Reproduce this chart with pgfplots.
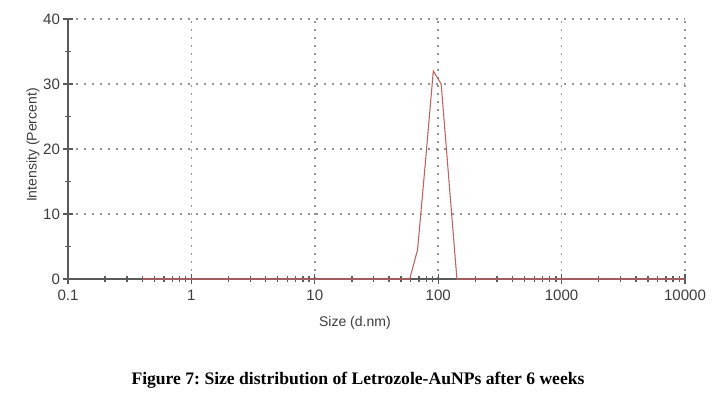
\documentclass[border=0pt]{standalone}
\usepackage{fontspec}
\setmainfont{Liberation Sans}
\newfontfamily\capfont{Liberation Serif}
\usepackage{pgfplots}
\pgfplotsset{compat=1.18}
\definecolor{txt}{RGB}{60,60,60}
\definecolor{axc}{RGB}{90,90,90}
\definecolor{curve}{RGB}{200,95,95}
\frenchspacing
\begin{document}
\begin{tikzpicture}[x=0.75pt,y=0.75pt]
\path[use as bounding box] (-68,-115) rectangle (650,279);
\begin{axis}[
  at={(0,0)}, anchor=south west,
  scale only axis, width=617*0.75pt, height=260*0.75pt,
  xmode=log, xmin=0.1, xmax=10000, ymin=0, ymax=40,
  axis lines=left, axis line style={-, axc, line width=1.1pt},
  xtick={0.1,1,10,100,1000,10000},
  xticklabels={0.1,1,10,100,1000,10000},
  minor xtick={0.2,0.3,0.4,0.5,0.6,0.7,0.8,0.9,2,3,4,5,6,7,8,9,20,30,40,50,60,70,80,90,200,300,400,500,600,700,800,900,2000,3000,4000,5000,6000,7000,8000,9000},
  ytick={0,10,20,30,40}, minor ytick={5,15,25,35},
  tick align=center, major tick length=7pt, minor tick length=4pt,
  tick style={axc, line width=1pt},
  grid=major,
  major grid style={gray!85, line width=1.3pt, dash pattern=on 1.2pt off 4.8pt},
  minor grid style={draw=none},
  /pgf/number format/assume math mode=true,
  ticklabel style={font=\fontsize{11.3}{13}\selectfont, text=txt},
  xticklabel style={yshift=-1pt},
  yticklabel style={xshift=1pt},
  xlabel={Size (d.nm)},
  ylabel={Intensity (Percent)},
  label style={font=\fontsize{10.5}{12}\selectfont, text=txt},
  xlabel style={at={(axis description cs:0.465,-0.169)}, anchor=center},
  ylabel style={at={(axis description cs:-0.0567,0.515)}, anchor=center, rotate=0},
  clip=false,
]
\addplot[curve, line width=0.8pt, mark=none] coordinates {
 (0.4,0) (58.77,0) (68.06,4.5) (78.82,18) (91.28,32) (105.7,30) (122.4,15) (141.8,0) (10000,0)
};
\end{axis}
\node[font=\capfont\bfseries\fontsize{13.2}{15}\selectfont] at (290,-101) {Figure 7: Size distribution of Letrozole-AuNPs after 6 weeks};
\end{tikzpicture}
\end{document}
